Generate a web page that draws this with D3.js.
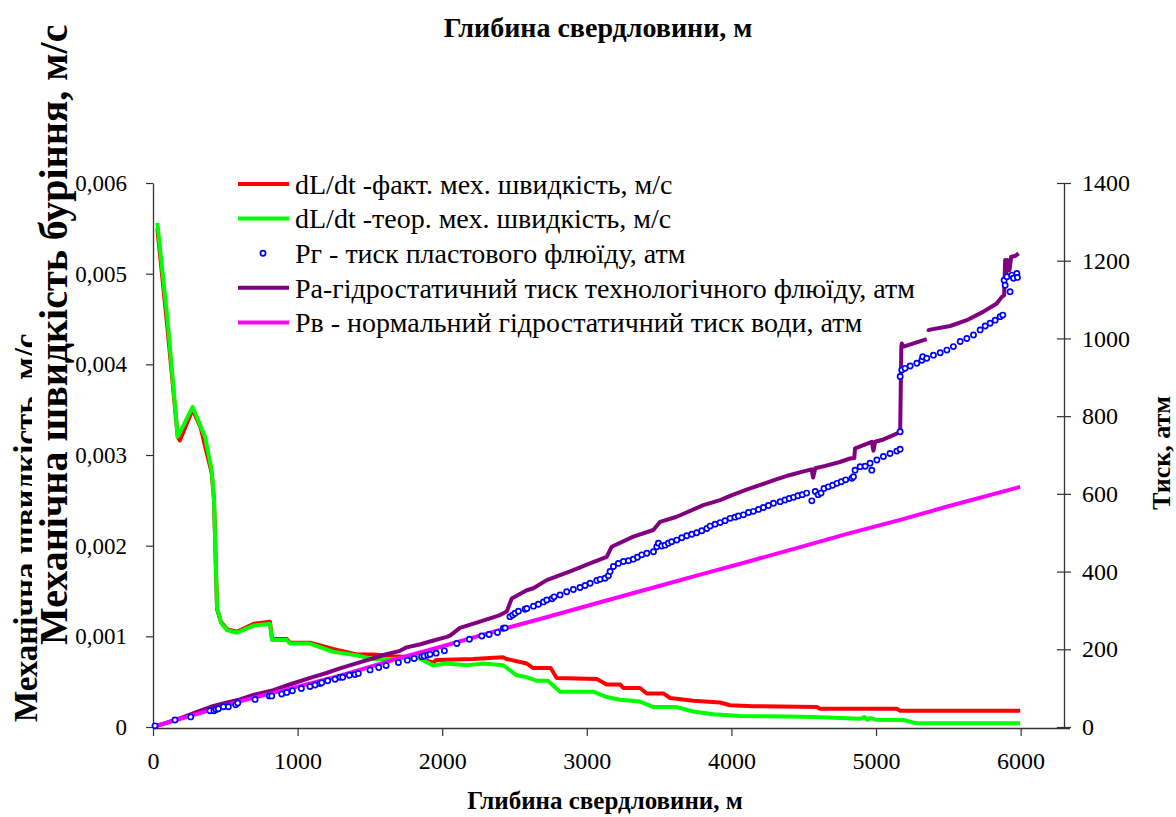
<!DOCTYPE html>
<html>
<head>
<meta charset="utf-8">
<script src="https://cdn.jsdelivr.net/npm/d3@7/dist/d3.min.js"></script>
<style>
  html, body { margin: 0; padding: 0; background: #fff; }
  svg { display: block; }
  text { font-family: "Liberation Serif", "Times New Roman", serif; fill: #000; }
</style>
</head>
<body>
<svg id="chart" width="1176" height="817"></svg>
<script>
// Depth (m) and value pairs for each series
const depthTicks = [0, 1000, 2000, 3000, 4000, 5000, 6000];
const speedTicks = [0, 0.001, 0.002, 0.003, 0.004, 0.005, 0.006];
const pressureTicks = [0, 200, 400, 600, 800, 1000, 1200, 1400];

// dL/dt - actual rate of penetration, m/s
const factSpeed = [
  [30, 0.0055], [100, 0.0044], [171, 0.0032], [185, 0.00316], [274, 0.0035], [330, 0.0033],
  [360, 0.0031], [406, 0.0028], [422, 0.0025], [443, 0.0013], [470, 0.00116], [510, 0.00108],
  [579, 0.00105], [700, 0.00114], [809, 0.00116], [823, 0.00097], [925, 0.00097], [948, 0.00093],
  [1086, 0.00093], [1245, 0.00086], [1409, 0.0008], [1522, 0.0008], [1660, 0.00078], [1823, 0.00077],
  [1937, 0.00071], [1960, 0.00074], [2213, 0.00075], [2420, 0.00077], [2446, 0.00075], [2585, 0.0007],
  [2630, 0.00065], [2750, 0.00065], [2792, 0.00054], [3069, 0.00053], [3138, 0.00047], [3230, 0.00047],
  [3253, 0.00043], [3368, 0.00043], [3415, 0.00037], [3530, 0.00037], [3576, 0.00032], [3737, 0.00029],
  [3922, 0.00027], [3991, 0.00024], [4152, 0.00023], [4590, 0.00022], [4613, 0.0002], [5144, 0.0002],
  [5167, 0.00018], [5997, 0.00018]
];

// dL/dt - theoretical rate of penetration, m/s
const theorSpeed = [
  [30, 0.00556], [100, 0.0045], [171, 0.0032], [274, 0.00353], [360, 0.0032], [406, 0.00283],
  [422, 0.0025], [443, 0.00132], [470, 0.00115], [510, 0.00107], [579, 0.00104], [700, 0.00112],
  [809, 0.00114], [823, 0.00096], [925, 0.00096], [948, 0.00092], [1086, 0.00092], [1245, 0.00083],
  [1409, 0.00079], [1522, 0.00075], [1660, 0.00075], [1823, 0.00077], [1939, 0.00068], [2031, 0.0007],
  [2170, 0.00068], [2285, 0.0007], [2423, 0.00068], [2515, 0.00057], [2585, 0.00055], [2654, 0.00051],
  [2730, 0.00051], [2815, 0.00039], [3045, 0.00039], [3138, 0.00033], [3230, 0.0003], [3368, 0.00028],
  [3460, 0.00022], [3620, 0.00022], [3737, 0.00017], [3875, 0.00014], [4060, 0.00012], [4383, 0.000115],
  [4567, 0.00011], [4890, 0.00009], [4920, 0.00011], [4940, 0.00008], [4960, 0.0001], [5000, 0.00008],
  [5190, 0.000077], [5282, 0.00004], [5997, 0.00004]
];

// Pг - formation fluid pressure, atm
const formationPressure = [
  [14, 3], [152, 18], [261, 26], [394, 42], [422, 42], [436, 45], [452, 47], [487, 52], [521, 52],
  [572, 57], [586, 62], [706, 71], [805, 80], [821, 80], [890, 85], [925, 89], [964, 93], [1026, 99],
  [1086, 104], [1121, 108], [1155, 112], [1167, 114], [1208, 119], [1259, 123], [1294, 128], [1312, 128],
  [1358, 133], [1397, 135], [1420, 138], [1501, 147], [1561, 153], [1612, 158], [1697, 166], [1759, 172],
  [1806, 176], [1859, 181], [1875, 183], [1900, 185], [1916, 187], [1958, 190], [2015, 196], [2101, 215],
  [2188, 226], [2274, 234], [2324, 238], [2382, 243], [2423, 254], [2435, 255], [2469, 284], [2488, 288],
  [2504, 293], [2527, 298], [2573, 303], [2585, 305], [2631, 311], [2665, 316], [2700, 322], [2723, 327],
  [2760, 330], [2774, 335], [2815, 340], [2861, 348], [2907, 354], [2953, 359], [2988, 364], [3023, 370],
  [3069, 377], [3092, 380], [3126, 383], [3149, 389], [3161, 400], [3184, 413], [3218, 421], [3253, 426],
  [3288, 428], [3322, 432], [3350, 437], [3380, 443], [3415, 447], [3461, 451], [3484, 464], [3495, 473],
  [3518, 466], [3541, 468], [3564, 473], [3587, 477], [3622, 481], [3657, 487], [3691, 492], [3726, 496],
  [3760, 500], [3795, 505], [3830, 511], [3853, 517], [3887, 522], [3922, 526], [3956, 531], [3991, 537],
  [4025, 540], [4048, 543], [4083, 546], [4118, 552], [4152, 555], [4187, 560], [4221, 565], [4256, 570],
  [4291, 576], [4337, 580], [4371, 584], [4400, 588], [4430, 591], [4460, 595], [4490, 598], [4520, 602],
  [4556, 582], [4580, 606], [4600, 598], [4620, 602], [4640, 614], [4670, 618], [4700, 622], [4730, 627],
  [4760, 631], [4790, 636], [4833, 640], [4844, 644], [4855, 661], [4890, 670], [4925, 671], [4959, 679],
  [4971, 661], [5006, 687], [5051, 696], [5097, 704], [5144, 710], [5167, 715], [5167, 760], [5167, 902],
  [5178, 919], [5201, 923], [5236, 929], [5282, 936], [5317, 944], [5323, 953], [5351, 949], [5397, 957],
  [5444, 963], [5490, 970], [5535, 979], [5582, 992], [5628, 1000], [5674, 1009], [5720, 1022], [5755, 1032],
  [5789, 1039], [5824, 1047], [5858, 1056], [5877, 1060], [5886, 1150], [5893, 1137], [5905, 1159],
  [5927, 1120], [5939, 1163], [5951, 1155], [5974, 1167], [5978, 1157]
];

// Pa - hydrostatic pressure of the drilling fluid, atm (null marks a break in the record)
const fluidPressure = [
  [20, 2], [100, 12], [200, 24], [300, 38], [400, 52], [500, 62], [602, 71], [700, 83], [832, 95],
  [950, 110], [1109, 129], [1200, 139], [1293, 151], [1400, 163], [1524, 177], [1600, 186], [1708, 196],
  [1755, 205], [1850, 213], [1916, 220], [2031, 232], [2054, 235], [2123, 255], [2250, 270], [2400, 288],
  [2446, 297], [2481, 331], [2585, 352], [2630, 357], [2723, 378], [2907, 404], [3000, 418], [3138, 438],
  [3172, 464], [3322, 490], [3460, 507], [3507, 528], [3622, 541], [3806, 571], [3922, 584], [4000, 596],
  [4100, 610], [4200, 623], [4300, 636], [4400, 648], [4500, 658], [4555, 663], [4565, 642], [4580, 666],
  [4650, 672], [4750, 682], [4820, 691], [4850, 692], [4855, 717], [4971, 734], [4982, 711], [4994, 734],
  [5051, 740], [5120, 751], [5167, 760], [5175, 979], [5178, 987], [5190, 979], [5351, 998],
  [5356, null],
  [5362, 1017], [5365, 1022], [5513, 1032], [5628, 1047], [5743, 1069], [5835, 1090], [5870, 1107],
  [5886, 1111], [5893, 1202], [5900, 1159], [5909, 1202], [5923, 1176], [5935, 1210], [5963, 1212],
  [5986, 1219]
];

// Pв - normal hydrostatic water pressure, atm
const waterPressure = [
  [15, 2], [300, 33], [602, 66], [1000, 104], [1294, 132], [1708, 178], [1985, 206], [2400, 250],
  [2677, 278], [3092, 321], [3500, 363], [3784, 392], [4100, 424], [4475, 463], [4800, 497],
  [5167, 533], [5500, 568], [5997, 618]
];

const legendLabels = [
  "dL/dt -факт. мех. швидкість, м/с",
  "dL/dt -теор. мех. швидкість, м/с",
  "Рг - тиск пластового флюїду, атм",
  "Ра-гідростатичний тиск технологічного флюїду, атм",
  "Рв - нормальний гідростатичний тиск води, атм"
];

const COLORS = { fact: "#ff0000", theor: "#00ff00", pg: "#0000ff", pa: "#800080", pv: "#ff00ff" };
const SERIF = '"Liberation Serif", "Times New Roman", serif';

const svg = d3.select("#chart");
const plot = { left: 153, right: 1064, top: 183, bottom: 727 };

const x = d3.scaleLinear().domain([0, 6300]).range([plot.left, plot.right]);
const ySpeed = d3.scaleLinear().domain([0, 0.006]).range([plot.bottom, plot.top]);
const yPress = d3.scaleLinear().domain([0, 1400]).range([plot.bottom, plot.top]);

// Left axis titles: the older short one sits underneath the full title
svg.append("text").attr("transform", "translate(37,722) rotate(-90)")
  .style("font-size", "33px").style("font-weight", "bold").text("Механічна швидкість, м/с");
svg.append("rect").attr("x", 32).attr("y", 0).attr("width", 46).attr("height", 608).attr("fill", "#fff");
svg.append("text").attr("transform", "translate(67,645) rotate(-90)")
  .style("font-size", "40px").style("font-weight", "bold").text("Механічна швидкість буріння, м/с");

// Right axis title
svg.append("text").attr("transform", "translate(1170,453) rotate(-90)").attr("text-anchor", "middle")
  .style("font-size", "26px").style("font-weight", "bold").text("Тиск, атм");

// Top and bottom titles
svg.append("text").attr("x", 598).attr("y", 37).attr("text-anchor", "middle")
  .style("font-size", "28px").style("font-weight", "bold").text("Глибина свердловини, м");
svg.append("text").attr("x", 605).attr("y", 809).attr("text-anchor", "middle")
  .style("font-size", "25px").style("font-weight", "bold").text("Глибина свердловини, м");

const axisColor = "#333";

// Bottom depth axis
const xAxis = svg.append("g")
  .attr("transform", `translate(0,${plot.bottom + 1})`)
  .call(d3.axisBottom(x).tickValues(depthTicks).tickFormat(d3.format("d"))
    .tickSize(8).tickPadding(16).tickSizeOuter(0));
xAxis.select(".domain").attr("d", `M${plot.left},0.5H${plot.right + 6}`);

// Left speed axis
const fmtSpeed = v => v === 0 ? "0" : d3.format(".3f")(v).replace(".", ",");
const yAxisL = svg.append("g")
  .attr("transform", `translate(${plot.left},0)`)
  .call(d3.axisLeft(ySpeed).tickValues(speedTicks).tickFormat(fmtSpeed)
    .tickSize(7).tickPadding(19).tickSizeOuter(0));

// Right pressure axis, ticks crossing the line
const yAxisR = svg.append("g")
  .attr("transform", `translate(${plot.right},0)`)
  .call(d3.axisRight(yPress).tickValues(pressureTicks).tickFormat(d3.format("d"))
    .tickSize(7).tickPadding(11).tickSizeOuter(0));
yAxisR.selectAll(".tick line").attr("x1", -7);

[xAxis, yAxisL, yAxisR].forEach(g => {
  g.attr("font-family", SERIF).attr("font-size", 24);
  g.selectAll(".domain").attr("stroke", axisColor).attr("stroke-width", 1.3);
  g.selectAll(".tick line").attr("stroke", axisColor).attr("stroke-width", 1.2);
  g.selectAll(".tick text").style("font-family", SERIF).style("font-size", "24px").attr("fill", "#000");
});
yAxisL.selectAll(".tick text").style("font-size", "23px");

// Series
const speedLine = d3.line().x(d => x(d[0])).y(d => ySpeed(d[1]));
const pressLine = d3.line().defined(d => d[1] != null).x(d => x(d[0])).y(d => yPress(d[1]));

svg.append("path").datum(factSpeed).attr("d", speedLine)
  .attr("fill", "none").attr("stroke", COLORS.fact).attr("stroke-width", 4).attr("stroke-linejoin", "round");
svg.append("path").datum(theorSpeed).attr("d", speedLine)
  .attr("fill", "none").attr("stroke", COLORS.theor).attr("stroke-width", 4).attr("stroke-linejoin", "round");
svg.append("path").datum(fluidPressure).attr("d", pressLine)
  .attr("fill", "none").attr("stroke", COLORS.pa).attr("stroke-width", 4).attr("stroke-linejoin", "round");
svg.append("path").datum(waterPressure).attr("d", pressLine)
  .attr("fill", "none").attr("stroke", COLORS.pv).attr("stroke-width", 4).attr("stroke-linejoin", "round");
svg.append("g").selectAll("circle").data(formationPressure).join("circle")
  .attr("cx", d => x(d[0])).attr("cy", d => yPress(d[1])).attr("r", 2.6)
  .attr("fill", "#fff").attr("stroke", COLORS.pg).attr("stroke-width", 1.7);

// Legend
const legend = svg.append("g").attr("transform", "translate(238,0)");
const legendRows = [
  { key: "fact", type: "line" }, { key: "theor", type: "line" }, { key: "pg", type: "dot" },
  { key: "pa", type: "line" }, { key: "pv", type: "line" }
];
legendRows.forEach((r, i) => {
  const yy = 184 + i * 34.6;
  if (r.type === "line") {
    legend.append("line").attr("x1", 0).attr("x2", 51).attr("y1", yy).attr("y2", yy)
      .attr("stroke", COLORS[r.key]).attr("stroke-width", 4);
  } else {
    legend.append("circle").attr("cx", 25).attr("cy", yy).attr("r", 2.6)
      .attr("fill", "#fff").attr("stroke", COLORS.pg).attr("stroke-width", 1.7);
  }
  legend.append("text").attr("x", 57).attr("y", yy).attr("dy", "0.35em")
    .style("font-size", "28px").text(legendLabels[i]);
});
</script>
</body>
</html>
